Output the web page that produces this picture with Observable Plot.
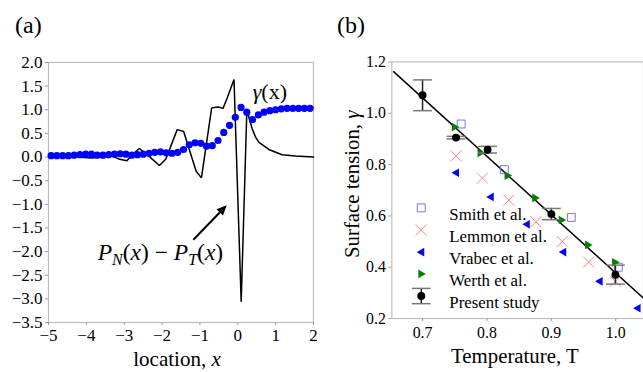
<!DOCTYPE html>
<html><head><meta charset="utf-8">
<script src="https://cdn.jsdelivr.net/npm/d3@7"></script>
<script src="https://cdn.jsdelivr.net/npm/@observablehq/plot@0.6"></script>
<style>
body{margin:0;background:#fff;}
#wrap{position:relative;width:643px;height:372px;overflow:hidden;font-family:"Liberation Serif","Times New Roman",serif;background:#fff;}
#wrap svg, #wrap svg text, #wrap svg g{font-family:"Liberation Serif","Times New Roman",serif !important;}
#a svg g[aria-label$="tick label"], #a svg g[aria-label$="tick label"] text{font-size:17px !important;}
#b svg g[aria-label$="tick label"], #b svg g[aria-label$="tick label"] text{font-size:16px !important;}
#a,#b{position:absolute;top:0;}
#a{left:0;} #b{left:320px;}
.lab{position:absolute;font-size:24px;line-height:24px;color:#000;}
</style></head><body>
<div id="wrap"><div id="a"></div><div id="b"></div>
<div class="lab" style="left:15px;top:13px">(a)</div>
<div class="lab" style="left:337px;top:13px">(b)</div>
</div>
<script>
// ---------- panel (a) data ----------
const xTicksA = [-5, -4, -3, -2, -1, 0, 1, 2];
const yTicksA = [-3.5, -3, -2.5, -2, -1.5, -1, -0.5, 0, 0.5, 1, 1.5, 2];
const gammaX = [-4.93,-4.778,-4.626,-4.474,-4.322,-4.17,-4.018,-3.866,-3.714,-3.562,-3.41,-3.258,-3.106,-2.954,-2.802,-2.65,
  -2.498,-2.346,-2.194,-2.042,-1.89,-1.738,-1.586,-1.434,-1.282,-1.13,-0.978,-0.826,-0.674,-0.522,-0.37,-0.218,-0.066,
  0.086,0.238,0.39,0.542,0.694,0.846,0.998,1.15,1.302,1.454,1.606,1.758,1.91];
const gammaY = [0.03,0.03,0.03,0.03,0.04,0.05,0.06,0.06,0.04,0.04,0.05,0.06,0.07,0.06,0.04,0.05,
  0.06,0.08,0.10,0.11,0.09,0.08,0.10,0.16,0.26,0.30,0.29,0.23,0.24,0.35,0.52,0.67,0.84,
  1.05,0.95,0.79,0.89,0.95,0.98,1.00,1.02,1.03,1.03,1.03,1.03,1.03];
const pressX = [-5.0,-4.6,-4.3,-4.07,-3.85,-3.6,-3.3,-3.15,-2.93,-2.75,-2.6,-2.35,-2.07,-1.9,-1.6,-1.43,-1.1,-0.96,
  -0.69,-0.52,-0.39,-0.28,-0.1,0.09,0.24,0.3,0.38,0.47,0.56,0.82,1.17,1.52,2.0];
const pressY = [0.02,0.03,0.02,-0.01,-0.02,0.01,0.02,-0.04,-0.08,0.08,0.18,0.02,-0.18,-0.04,0.58,0.54,-0.30,-0.44,
  1.04,1.06,1.03,1.25,1.64,-3.06,1.00,0.82,0.60,0.42,0.31,0.16,0.05,0.02,0.0];
const gammaLabelPos = [0.86, 1.22];
const pressLabelPos = [-2.03, -2.19];
const arrowFrom = [-1.16, -1.76], arrowTo = [-0.28, -1.03];

// ---------- panel (b) data ----------
const xTicksB = [0.7, 0.8, 0.9, 1.0];
const yTicksB = [0.2, 0.4, 0.6, 0.8, 1.0, 1.2];
const presT = [0.700, 0.752, 0.801, 0.900, 0.9995];
const presG = [1.070, 0.905, 0.858, 0.607, 0.371];
const presErr = [0.060, 0.005, 0.013, 0.022, 0.037];
const smithT = [0.760, 0.827, 0.931, 1.004];
const smithG = [0.958, 0.780, 0.594, 0.400];
const lemmonT = [0.752, 0.793, 0.834, 0.876, 0.917, 0.958, 0.9995];
const lemmonG = [0.834, 0.747, 0.661, 0.577, 0.500, 0.420, 0.345];
const vrabecT = [0.752, 0.806, 0.862, 0.9185, 0.975, 1.034];
const vrabecG = [0.768, 0.674, 0.567, 0.459, 0.345, 0.240];
const werthT = [0.750, 0.790, 0.832, 0.875, 0.916, 0.957, 0.999];
const werthG = [0.946, 0.845, 0.757, 0.670, 0.584, 0.487, 0.419];
const fitT = [0.655, 1.045];
const fitG = [1.162, 0.275];
const legendLabels = ["Smith et al.", "Lemmon et al.", "Vrabec et al.", "Werth et al.", "Present study"];

// ---------- helpers ----------
const zip = (xs, ys) => xs.map((x, i) => ({x, y: ys[i]}));
const triLeft = {draw(c, size) { const r = Math.sqrt(size / Math.PI); c.moveTo(-r, 0); c.lineTo(r * 0.65, -r * 0.95); c.lineTo(r * 0.65, r * 0.95); c.closePath(); }};
const triRight = {draw(c, size) { const r = Math.sqrt(size / Math.PI); c.moveTo(r, 0); c.lineTo(-r * 0.65, -r * 0.95); c.lineTo(-r * 0.65, r * 0.95); c.closePath(); }};
const capSym = {draw(c) { c.moveTo(-9.5, 0); c.lineTo(9.5, 0); }};
const vbarSym = {draw(c) { c.moveTo(0, -7.7); c.lineTo(0, 7.7); }};
const axisGrey = "#9a9a9a", frameGrey = "#bdbdbd";
const SERIF = "Liberation Serif";

// ---------- panel (a) ----------
const pa = Plot.plot({
  width: 320, height: 372,
  marginLeft: 48, marginRight: 7, marginTop: 62, marginBottom: 50,
  style: {fontFamily: SERIF, fontSize: "17px", color: "black", background: "transparent"},
  x: {domain: [-5, 2]},
  y: {domain: [-3.5, 2]},
  marks: [
    Plot.frame({stroke: frameGrey, strokeWidth: 1.2}),
    Plot.axisX({ticks: xTicksA, tickFormat: d3.format("d"), tickSize: 3, tickPadding: 3, stroke: axisGrey, fill: "black", label: null, fontSize: 17}),
    Plot.axisY({ticks: yTicksA, tickFormat: d3.format(".1f"), tickSize: 3, tickPadding: 3, stroke: axisGrey, fill: "black", label: null, fontSize: 17}),
    Plot.line(zip(pressX, pressY), {x: "x", y: "y", stroke: "black", strokeWidth: 1.5, strokeLinejoin: "miter"}),
    Plot.dot(zip(gammaX, gammaY), {x: "x", y: "y", r: 3.6, fill: "#0000ff"})
  ]
});
document.getElementById("a").appendChild(pa);
{
  const sx = pa.scale("x").apply, sy = pa.scale("y").apply;
  const svg = d3.select(pa);
  const t1 = svg.append("text").attr("x", 177).attr("y", 366).attr("text-anchor", "middle")
    .attr("font-family", SERIF).attr("font-size", 21).attr("fill", "black");
  t1.append("tspan").text("location, ");
  t1.append("tspan").attr("font-style", "italic").text("x");
  const g = svg.append("text").attr("x", sx(gammaLabelPos[0])).attr("y", sy(gammaLabelPos[1]))
    .attr("text-anchor", "middle").attr("font-family", SERIF).attr("font-size", 22).attr("fill", "black");
  g.append("tspan").attr("font-style", "italic").text("γ");
  g.append("tspan").text("(x)");
  const p = svg.append("text").attr("x", sx(pressLabelPos[0])).attr("y", sy(pressLabelPos[1]))
    .attr("text-anchor", "middle").attr("font-family", SERIF).attr("font-size", 23.5).attr("fill", "black");
  p.append("tspan").attr("font-style", "italic").text("P");
  p.append("tspan").attr("font-style", "italic").attr("font-size", 16).attr("dy", 5).text("N");
  p.append("tspan").attr("dy", -5).text("(");
  p.append("tspan").attr("font-style", "italic").text("x");
  p.append("tspan").text(") − ");
  p.append("tspan").attr("font-style", "italic").text("P");
  p.append("tspan").attr("font-style", "italic").attr("font-size", 16).attr("dy", 5).text("T");
  p.append("tspan").attr("dy", -5).text("(");
  p.append("tspan").attr("font-style", "italic").text("x");
  p.append("tspan").text(")");
  const x0 = sx(arrowFrom[0]), y0 = sy(arrowFrom[1]), x1 = sx(arrowTo[0]), y1 = sy(arrowTo[1]);
  const ang = Math.atan2(y1 - y0, x1 - x0), L = 10, W = 4.5;
  const bx = x1 - L * Math.cos(ang), by = y1 - L * Math.sin(ang);
  svg.append("line").attr("x1", x0).attr("y1", y0).attr("x2", bx).attr("y2", by).attr("stroke", "black").attr("stroke-width", 2);
  svg.append("path").attr("d", `M${x1},${y1}L${bx - W * Math.sin(ang)},${by + W * Math.cos(ang)}L${bx + W * Math.sin(ang)},${by - W * Math.cos(ang)}Z`).attr("fill", "black");
}

// ---------- panel (b) ----------
const presData = presT.map((t, i) => ({x: t, y: presG[i], lo: presG[i] - presErr[i], hi: presG[i] + presErr[i]}));
const legDy = [147.3, 169.7, 192, 214, 236.3];
const legendMarks = [
  Plot.dot([0], {frameAnchor: "top-left", dx: 29.7, dy: legDy[0], symbol: "square", r: 4.5, fill: "none", stroke: "#7373f0", strokeWidth: 1}),
  Plot.dot([0], {frameAnchor: "top-left", dx: 29.7, dy: legDy[1], symbol: "times", r: 5.1, stroke: "#ff7f7f", strokeWidth: 1}),
  Plot.dot([0], {frameAnchor: "top-left", dx: 29.7, dy: legDy[2], symbol: triLeft, r: 4.6, fill: "#0000ff", stroke: "none"}),
  Plot.dot([0], {frameAnchor: "top-left", dx: 29.7, dy: legDy[3], symbol: triRight, r: 4.6, fill: "#008000", stroke: "none"}),
  Plot.dot([0], {frameAnchor: "top-left", dx: 29.7, dy: legDy[4], symbol: vbarSym, stroke: "#222", strokeWidth: 1.5}),
  Plot.dot([0], {frameAnchor: "top-left", dx: 29.7, dy: legDy[4] - 7.7, symbol: capSym, stroke: "#777", strokeWidth: 1.5}),
  Plot.dot([0], {frameAnchor: "top-left", dx: 29.7, dy: legDy[4] + 7.7, symbol: capSym, stroke: "#777", strokeWidth: 1.5}),
  Plot.dot([0], {frameAnchor: "top-left", dx: 29.7, dy: legDy[4], r: 4, fill: "black"}),
  ...legendLabels.map((s, i) => Plot.text([s], {frameAnchor: "top-left", dx: 58, dy: legDy[i], text: d => d, textAnchor: "start", fontSize: 17, fill: "black"}))
];
const pb = Plot.plot({
  width: 326, height: 372,
  marginLeft: 72, marginRight: 0, marginTop: 62, marginBottom: 51,
  style: {fontFamily: SERIF, fontSize: "16px", color: "black", background: "transparent"},
  x: {domain: [0.6523, 1.0431]},
  y: {domain: [0.2, 1.2]},
  marks: [
    Plot.frame({stroke: frameGrey, strokeWidth: 1.2}),
    Plot.axisX({ticks: xTicksB, tickFormat: d3.format(".1f"), tickSize: 3, tickPadding: 5, stroke: axisGrey, fill: "black", label: null, fontSize: 16}),
    Plot.axisY({ticks: yTicksB, tickFormat: d3.format(".1f"), tickSize: 3, tickPadding: 3, stroke: axisGrey, fill: "black", label: null, fontSize: 16}),
    Plot.line(zip(fitT, fitG), {x: "x", y: "y", stroke: "black", strokeWidth: 1.5}),
    Plot.dot(zip(smithT, smithG), {x: "x", y: "y", symbol: "square", r: 4.5, fill: "none", stroke: "#7373f0", strokeWidth: 1}),
    Plot.dot(zip(lemmonT, lemmonG), {x: "x", y: "y", symbol: "times", r: 5.1, stroke: "#ff7f7f", strokeWidth: 1}),
    Plot.dot(zip(vrabecT, vrabecG), {x: "x", y: "y", symbol: triLeft, r: 4.6, fill: "#0000ff", stroke: "none"}),
    Plot.dot(zip(werthT, werthG), {x: "x", y: "y", symbol: triRight, r: 4.6, fill: "#008000", stroke: "none"}),
    Plot.ruleX(presData, {x: "x", y1: "lo", y2: "hi", stroke: "#222", strokeWidth: 1.5}),
    Plot.dot(presData, {x: "x", y: "hi", symbol: capSym, stroke: "#777", strokeWidth: 1.5}),
    Plot.dot(presData, {x: "x", y: "lo", symbol: capSym, stroke: "#777", strokeWidth: 1.5}),
    Plot.dot(presData, {x: "x", y: "y", r: 4, fill: "black"}),
    ...legendMarks
  ]
});
document.getElementById("b").appendChild(pb);
{
  const svg = d3.select(pb);
  svg.append("text").attr("x", 196.7).attr("y", 366).attr("text-anchor", "middle")
    .attr("font-family", SERIF).attr("font-size", 21).attr("fill", "black").text("Temperature, T");
  const yl = svg.append("text").attr("transform", "translate(39,186) rotate(-90)").attr("text-anchor", "middle")
    .attr("font-family", SERIF).attr("font-size", 21).attr("fill", "black");
  yl.append("tspan").text("Surface tension, ");
  yl.append("tspan").attr("font-style", "italic").text("γ");
}
</script>
</body></html>
